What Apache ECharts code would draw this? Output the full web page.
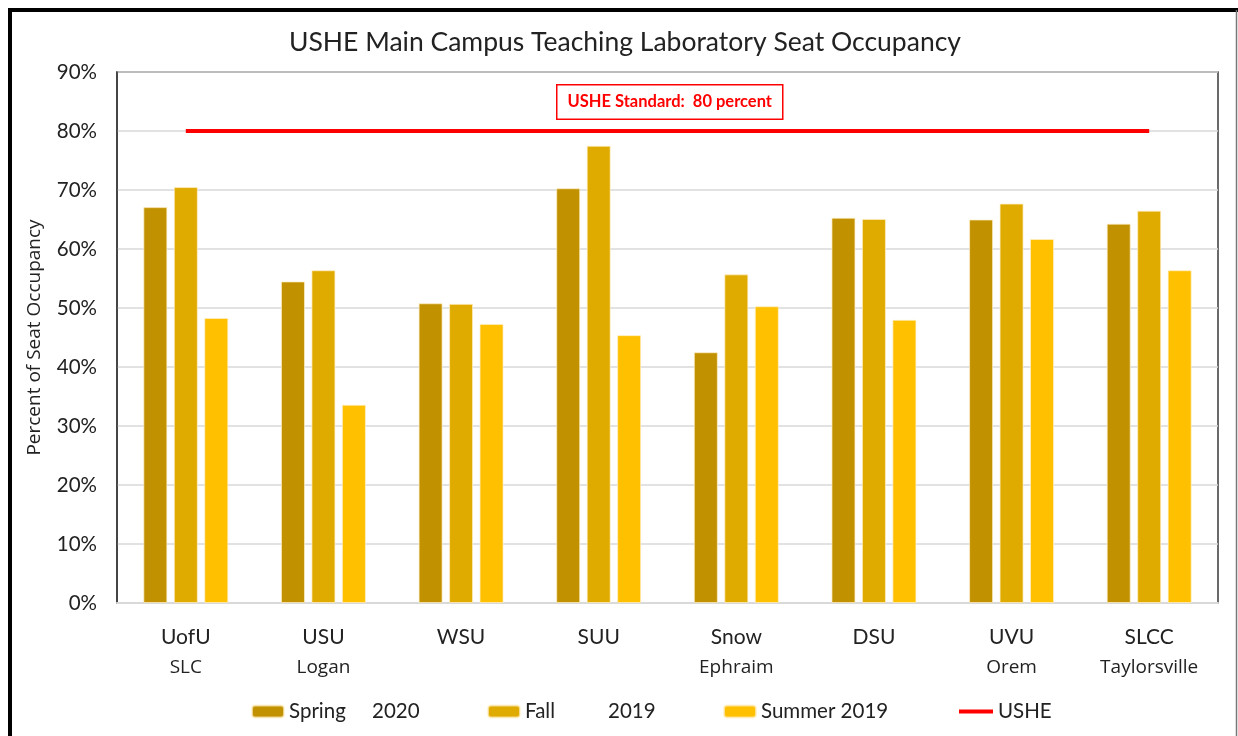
<!DOCTYPE html>
<html lang="en">
<head>
    <meta charset="UTF-8">
    <title>USHE Teaching Laboratory Seat Occupancy</title>
    <script src="https://cdn.jsdelivr.net/npm/echarts@6/dist/echarts.min.js"></script>
    <style>
        html, body { margin: 0; padding: 0; background: #fff; }
        #main { width: 1238px; height: 736px; }
    </style>
</head>
<body>
<div id="main"></div>

<script>
    // campus names (first line) and city (second line)
    var campuses = ['UofU', 'USU', 'WSU', 'SUU', 'Snow', 'DSU', 'UVU', 'SLCC'];
    var cities = ['SLC', 'Logan', '', '', 'Ephraim', '', 'Orem', 'Taylorsville'];

    // percent of seats occupied
    var spring2020 = [67.1, 54.5, 50.8, 70.3, 42.5, 65.3, 65.0, 64.3];
    var fall2019 = [70.5, 56.4, 50.7, 77.5, 55.7, 65.1, 67.7, 66.5];
    var summer2019 = [48.3, 33.6, 47.3, 45.4, 50.3, 48.0, 61.7, 56.4];
    var usheStandard = [80, 80, 80, 80, 80, 80, 80, 80];

    var yTicks = [0, 10, 20, 30, 40, 50, 60, 70, 80, 90];

    var font = 'Lato, "Open Sans", sans-serif';
    var font2 = '"Open Sans", Lato, sans-serif';
    var barColors = ['#C19100', '#E0AB00', '#FFC000'];

    var myChart = echarts.init(document.getElementById('main'));

    function legendFor(item, left, w, h) {
        return {
            data: [item],
            left: left,
            top: 701,
            padding: 0,
            itemWidth: w,
            itemHeight: h,
            textStyle: {
                fontFamily: font,
                fontSize: 20.5,
                color: '#222',
                rich: { a: { width: 83, fontFamily: font, fontSize: 20.5, color: '#222' },
                        b: { fontFamily: font, fontSize: 20.5, color: '#222' } }
            },
            formatter: function (n) {
                // spring and fall are tab-spaced in the original legend
                if (n === 'Spring 2020' || n === 'Fall 2019') {
                    var p = n.split(' ');
                    return '{a|' + p[0] + '}{b|' + p[1] + '}';
                }
                return n;
            }
        };
    }

    var option = {
        animation: false,
        backgroundColor: '#fff',
        title: {
            text: 'USHE Main Campus Teaching Laboratory Seat Occupancy',
            left: 289,
            top: 29,
            padding: 0,
            textStyle: { fontFamily: font, fontSize: 26.5, fontWeight: 'normal', color: '#222' }
        },
        legend: [
            legendFor('Spring 2020', 251, 32, 12),
            legendFor('Fall 2019', 487, 32, 12),
            legendFor('Summer 2019', 723, 32, 12),
            legendFor({ name: 'USHE', icon: 'rect' }, 959, 34, 4)
        ],
        grid: {
            left: 117, right: 20, top: 72, bottom: 133,
            show: true,
            borderColor: '#3a3a3a',
            borderWidth: 1.5
        },
        xAxis: {
            type: 'category',
            data: campuses,
            axisTick: { show: false },
            axisLine: { lineStyle: { color: '#d9d9d9', width: 2 } },
            axisLabel: {
                margin: 19,
                formatter: function (v, i) {
                    return '{a|' + v + '}\n{b|' + (cities[i] || ' ') + '}';
                },
                rich: {
                    a: { fontFamily: font, fontSize: 21, color: '#222', lineHeight: 30 },
                    b: { fontFamily: font2, fontSize: 19, color: '#222', lineHeight: 31 }
                }
            }
        },
        yAxis: {
            type: 'value',
            min: yTicks[0],
            max: yTicks[yTicks.length - 1],
            interval: 10,
            name: 'Percent of Seat Occupancy',
            nameLocation: 'middle',
            nameGap: 73,
            nameTextStyle: { fontFamily: font2, fontSize: 19, color: '#222' },
            axisLine: { show: true, lineStyle: { color: '#3a3a3a', width: 1.5 } },
            axisTick: { show: false },
            axisLabel: {
                margin: 20,
                formatter: '{value}%',
                fontFamily: font, fontSize: 20.5, color: '#222'
            },
            splitLine: { lineStyle: { color: '#d9d9d9', width: 1.5 } }
        },
        series: [
            {
                name: 'Spring 2020', type: 'bar', data: spring2020,
                barWidth: 24, barGap: '27%',
                itemStyle: { color: barColors[0], borderColor: 'rgba(255,240,200,0.7)', borderWidth: 1 }
            },
            {
                name: 'Fall 2019', type: 'bar', data: fall2019,
                barWidth: 24, barGap: '27%',
                itemStyle: { color: barColors[1], borderColor: 'rgba(255,240,200,0.7)', borderWidth: 1 }
            },
            {
                name: 'Summer 2019', type: 'bar', data: summer2019,
                barWidth: 24, barGap: '27%',
                itemStyle: { color: barColors[2], borderColor: 'rgba(255,240,200,0.7)', borderWidth: 1 }
            },
            {
                name: 'USHE', type: 'line', data: usheStandard,
                symbol: 'none',
                lineStyle: { color: '#FF0000', width: 4 },
                itemStyle: { color: '#FF0000' },
                z: 5
            }
        ],
        graphic: [
            // standard annotation box
            {
                type: 'text',
                left: 556, top: 84,
                style: {
                    text: 'USHE Standard:  80 percent',
                    fontFamily: font, fontSize: 16.5, fontWeight: 'bold',
                    fill: '#FF0000',
                    backgroundColor: '#fff',
                    borderColor: '#FF0000', borderWidth: 1.5,
                    padding: [8, 10, 8, 10]
                },
                z: 10
            },
            // outer frame
            { type: 'line', shape: { x1: 8, y1: 10, x2: 1238, y2: 10 }, style: { stroke: '#000', lineWidth: 4 }, z: 10 },
            { type: 'line', shape: { x1: 10, y1: 8, x2: 10, y2: 736 }, style: { stroke: '#000', lineWidth: 4 }, z: 10 },
            { type: 'line', shape: { x1: 1236.5, y1: 10, x2: 1236.5, y2: 736 }, style: { stroke: '#777', lineWidth: 1.5 }, z: 10 }
        ]
    };

    myChart.setOption(option);
</script>
</body>
</html>
